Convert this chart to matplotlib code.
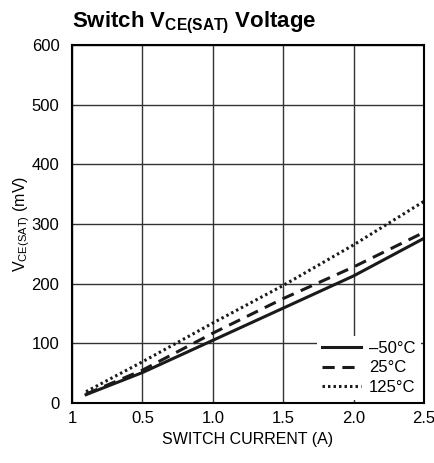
import numpy as np
import matplotlib.pyplot as plt
from matplotlib import font_manager

# pick a condensed font if we have one
names = {f.name for f in font_manager.fontManager.ttflist}
narrow = 'Liberation Sans Narrow' if 'Liberation Sans Narrow' in names else 'Liberation Sans'
plt.rcParams['font.family'] = [narrow, 'DejaVu Sans']
plt.rcParams['mathtext.fontset'] = 'custom'
plt.rcParams['mathtext.rm'] = narrow
plt.rcParams['mathtext.bf'] = narrow + ':bold'

# data
current = [0.1, 0.5, 1.0, 1.5, 2.0, 2.5]
v_m50 = [14, 51, 105, 159, 213, 276]
v_25 = [15, 55, 117, 175, 228, 286]
v_125 = [19, 69, 134, 197, 265, 338]

xticks = [0, 0.5, 1.0, 1.5, 2.0, 2.5]
xtick_labels = ['1', '0.5', '1.0', '1.5', '2.0', '2.5']
yticks = [0, 100, 200, 300, 400, 500, 600]

fig = plt.figure(figsize=(4.35, 4.63), dpi=100)
ax = fig.add_axes([0.1655, 0.1296, 0.8092, 0.7732])

ax.plot(current, v_m50, color='#1a1a1a', lw=2.2, ls='-', label='\u201350\u00b0C')
ax.plot(current, v_25, color='#1a1a1a', lw=2.2, ls=(0, (4, 2.5)), label='25\u00b0C')
ax.plot(current, v_125, color='#1a1a1a', lw=2.2, ls=(0, (0.8, 1.0)), label='125\u00b0C')

ax.set_xlim(0, 2.5)
ax.set_ylim(0, 600)
ax.set_xticks(xticks)
ax.set_xticklabels(xtick_labels)
ax.set_yticks(yticks)
ax.tick_params(length=0, labelsize=12, pad=6)
ax.tick_params(axis='y', pad=9)
ax.grid(True, color='#333333', lw=1)
for s in ax.spines.values():
    s.set_linewidth(1.5)
    s.set_color('black')

ax.set_xlabel('SWITCH CURRENT (A)', fontsize=11.5, labelpad=4)
ax.set_ylabel('V$_{\\mathrm{CE(SAT)}}$ (mV)', fontsize=11.5, labelpad=0)
fig.text(0.1655, 0.94, 'Switch V$_{\\mathbf{CE(SAT)}}$ Voltage', fontsize=16,
         fontweight='bold', ha='left', va='baseline')

leg = ax.legend(loc='lower right', fontsize=12, handlelength=2.3, handletextpad=0.5,
                labelspacing=0.25, borderaxespad=0.2, frameon=True, fancybox=False,
                framealpha=1, edgecolor='none', facecolor='white', borderpad=0.3)

fig.savefig('out.png', dpi=100)
